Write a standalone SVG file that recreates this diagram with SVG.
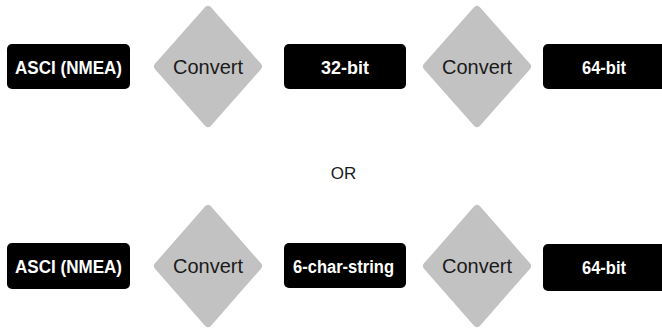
<svg xmlns="http://www.w3.org/2000/svg" width="662" height="328" viewBox="0 0 662 328">
<style>
.box{fill:#000}
.dia{fill:#c2c2c2;stroke:#c2c2c2;stroke-width:8;stroke-linejoin:round}
.bt{fill:#fff;font-family:"Liberation Sans",Arial,sans-serif;font-weight:bold;font-size:18px;text-anchor:middle}
.ct{fill:#1a1a1a;font-family:"Liberation Sans",Arial,sans-serif;font-size:20px;text-anchor:middle}
.or{fill:#1a1a1a;font-family:"Liberation Sans",Arial,sans-serif;font-size:17px;text-anchor:middle}
</style>
<rect width="662" height="328" fill="#fff"/>
<g id="connectors"/>
<g id="top-ascii"><rect class="box" x="7" y="44" width="123" height="45" rx="5"/><text class="bt" x="68.5" y="73.5" textLength="107" lengthAdjust="spacingAndGlyphs">ASCI (NMEA)</text></g>
<g id="top-convert1"><polygon class="dia" points="208,10 258,66.5 208,123 158,66.5"/><text class="ct" x="208" y="73.5">Convert</text></g>
<g id="top-32bit"><rect class="box" x="284" y="44" width="122" height="45" rx="5"/><text class="bt" x="345" y="73.5" textLength="48" lengthAdjust="spacingAndGlyphs">32-bit</text></g>
<g id="top-convert2"><polygon class="dia" points="477,10 527,66.5 477,123 427,66.5"/><text class="ct" x="477" y="73.5">Convert</text></g>
<g id="top-64bit"><rect class="box" x="543" y="44" width="125" height="45" rx="5"/><text class="bt" x="604" y="73.5" textLength="44" lengthAdjust="spacingAndGlyphs">64-bit</text></g>
<g id="or"><text class="or" x="343.5" y="179">OR</text></g>
<g id="bot-ascii"><rect class="box" x="7" y="243" width="123" height="46" rx="5"/><text class="bt" x="68.5" y="273" textLength="107" lengthAdjust="spacingAndGlyphs">ASCI (NMEA)</text></g>
<g id="bot-convert1"><polygon class="dia" points="208,209 258,266 208,323 158,266"/><text class="ct" x="208" y="273">Convert</text></g>
<g id="bot-6char"><rect class="box" x="284" y="243" width="122" height="45" rx="5"/><text class="bt" x="343.5" y="273" textLength="101" lengthAdjust="spacingAndGlyphs">6-char-string</text></g>
<g id="bot-convert2"><polygon class="dia" points="477,209 527,266 477,323 427,266"/><text class="ct" x="477" y="273">Convert</text></g>
<g id="bot-64bit"><rect class="box" x="543" y="244" width="125" height="47" rx="5"/><text class="bt" x="604" y="274" textLength="44" lengthAdjust="spacingAndGlyphs">64-bit</text></g>
</svg>
